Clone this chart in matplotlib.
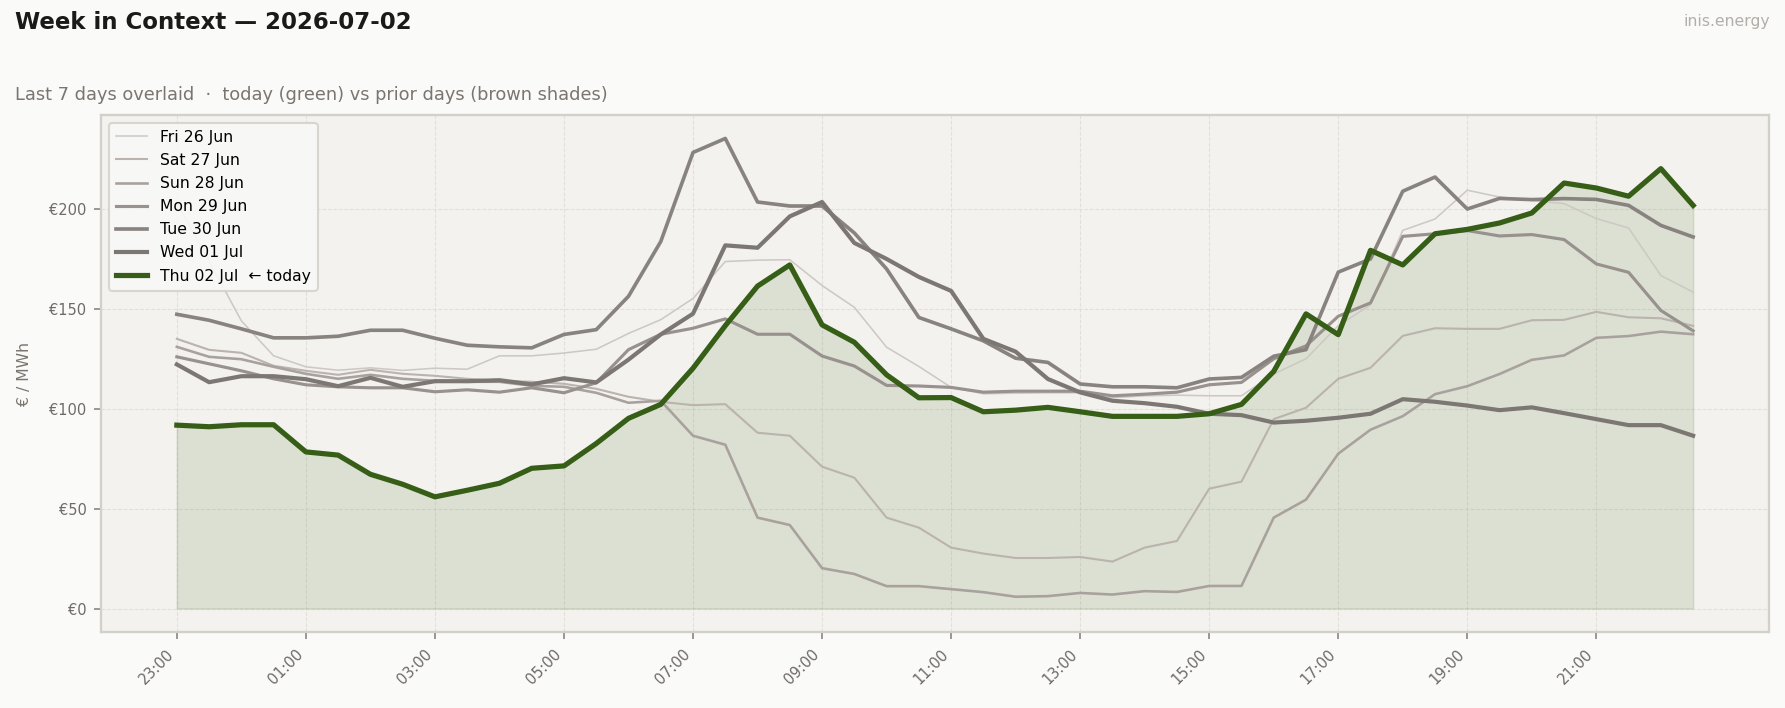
import matplotlib
matplotlib.use("Agg")
import matplotlib.pyplot as plt
import numpy as np

# ---------------- data ----------------
slot_labels = ["23:00", "01:00", "03:00", "05:00", "07:00", "09:00",
               "11:00", "13:00", "15:00", "17:00", "19:00", "21:00"]

day_names = ["Fri 26 Jun", "Sat 27 Jun", "Sun 28 Jun", "Mon 29 Jun",
             "Tue 30 Jun", "Wed 01 Jul", "Thu 02 Jul  \u2190 today"]

fri = [203, 174, 144, 126.5, 121, 119.3, 120.5, 119.2, 120.3, 119.8,
       126.5, 126.5, 127.9, 129.8, 137.7, 144.6, 155.2, 173.7, 174.4, 174.6,
       161.7, 150.8, 130.8, 121.2, 110.7, 107.5, 107.8, 108, 108, 105.5,
       106.5, 106.8, 106.5, 106.5, 117.4, 125, 141.6, 152, 189.3, 195,
       209.4, 206, 204.3, 202.7, 195.2, 190.5, 166.7, 158.4]
sat = [135, 129.5, 128, 121.5, 119, 117, 119.5, 117.5, 116.5, 115,
       114, 113.5, 112.5, 110, 106, 103.5, 101.8, 102.3, 88, 86.5,
       71, 65.5, 45.5, 40.5, 30.5, 27.5, 25.3, 25.3, 25.8, 23.5,
       30.5, 33.8, 60, 63.5, 94.8, 100.5, 115, 120.5, 136.5, 140.3,
       140, 140, 144.3, 144.5, 148.5, 145.8, 145.3, 141.5]
sun = [131, 126, 124.8, 121, 117.5, 115, 117, 115, 114, 113.5,
       113.5, 111.5, 111, 108, 103, 104, 86.5, 82, 45.5, 41.8,
       20.2, 17.3, 11.2, 11.2, 9.7, 8.2, 5.9, 6.2, 7.8, 7,
       8.7, 8.3, 11.3, 11.3, 45.5, 54.5, 77.5, 89.5, 96.3, 107.3,
       111.3, 117.4, 124.5, 126.7, 135.5, 136.4, 138.6, 137.3]
mon = [126, 122.5, 119, 115, 112, 111, 110.5, 110.5, 108.5, 109.5,
       108.3, 110.5, 108, 113, 129.6, 137.3, 140.3, 145, 137.3, 137.3,
       126.4, 121.4, 111.7, 111.4, 110.7, 108.3, 108.8, 108.8, 108.8, 106.5,
       107.3, 108.3, 112, 113.2, 125, 131.5, 146.3, 153, 186.3, 187.6,
       189.2, 186.5, 187.2, 184.7, 172.5, 168.3, 149.2, 139]
tue = [147.3, 144.3, 140, 135.5, 135.5, 136.3, 139.3, 139.3, 135.3, 131.8,
       131, 130.5, 137.2, 139.6, 156.3, 183.7, 228.3, 235.3, 203.5, 201.5,
       201.5, 188, 170, 145.7, 140, 134, 125.3, 123.2, 112.4, 111,
       111, 110.5, 114.9, 115.7, 126.3, 129.6, 168.4, 175, 208.9, 216,
       200, 205.3, 204.7, 205.2, 204.8, 201.8, 191.8, 186]
wed = [122.2, 113.3, 116.3, 116.3, 114.8, 111.3, 115.5, 111, 113.8, 113.8,
       114.3, 112.2, 115.3, 113.2, 124.6, 137.2, 147.6, 181.8, 180.6, 196.3,
       203.5, 183, 175, 166, 159, 135, 128.6, 114.9, 108.2, 104,
       102.8, 101, 97.5, 96.8, 93.1, 94, 95.5, 97.5, 104.8, 103.5,
       101.6, 99.3, 100.7, 97.8, 94.8, 91.8, 91.8, 86.5]
thu = [91.8, 91, 92, 92, 78.4, 76.8, 67.2, 62.2, 55.9, 59.2,
       62.7, 70.2, 71.4, 82.6, 95.2, 102.2, 120.3, 141.6, 161.4, 172,
       142, 133.3, 117, 105.5, 105.6, 98.5, 99.3, 100.7, 98.5, 96.2,
       96.2, 96.2, 97.5, 102.2, 118.7, 147.5, 137.1, 179.3, 172, 187.6,
       189.8, 193, 198, 213, 210.5, 206.4, 220.2, 201.8]

series = [fri, sat, sun, mon, tue, wed]
prior_colors = ["#cdc8c3", "#bab3ae", "#a9a19d", "#98918d", "#89837f", "#7c7773"]
prior_widths = [0.75, 1.0, 1.25, 1.5, 1.75, 2.0]
today_color = "#365e17"

# ---------------- figure ----------------
fig = plt.figure(figsize=(11.9, 4.72), dpi=150)
fig.patch.set_facecolor("#fafaf8")
ax = fig.add_axes([0.0566, 0.1073, 0.9344, 0.7303])
ax.set_facecolor("#f3f2ee")

x = np.arange(len(thu))

ax.fill_between(x, 0, thu, color=today_color, alpha=0.12, linewidth=0.8)
for vals, name, c, lw in zip(series, day_names[:6], prior_colors, prior_widths):
    ax.plot(x, vals, color=c, lw=lw, label=name)
ax.plot(x, thu, color=today_color, lw=2.5, label=day_names[6], zorder=5)

ax.set_xticks(np.arange(0, 48, 4))
ax.set_xticklabels(slot_labels, rotation=45, ha="right")
ax.set_yticks([0, 50, 100, 150, 200])
ax.set_yticklabels(["\u20ac0", "\u20ac50", "\u20ac100", "\u20ac150", "\u20ac200"])
ax.tick_params(axis="both", labelsize=7, colors="#8a8580", labelcolor="#6f6a66",
               length=3.5, width=0.8)
ax.grid(True, color="#e0ddd7", linestyle="--", linewidth=0.5, alpha=0.9)
ax.set_axisbelow(True)
for s in ax.spines.values():
    s.set_color("#d3cfc9")
    s.set_linewidth(1.1)

ax.set_ylabel("\u20ac / MWh", fontsize=7.5, color="#7a7570", labelpad=8)

leg = ax.legend(loc="upper left", fontsize=7.5, frameon=True, handlelength=2.0,
                borderpad=0.45, labelspacing=0.52, handletextpad=0.8,
                borderaxespad=0.5)
leg.get_frame().set_facecolor("#f8f8f6")
leg.get_frame().set_edgecolor("#d6d2cc")
leg.get_frame().set_alpha(0.9)

fig.text(0.0083, 0.968, "Week in Context \u2014 2026-07-02", fontsize=11,
         fontweight="bold", color="#1a1a1a", ha="left", va="center")
fig.text(0.0083, 0.866,
         "Last 7 days overlaid  \u00b7  today (green) vs prior days (brown shades)",
         fontsize=8.5, color="#7a7570", ha="left", va="center")
fig.text(0.9916, 0.970, "inis.energy", fontsize=7.5, color="#b3aea9",
         ha="right", va="center")

fig.savefig("out.png", dpi=150, facecolor=fig.get_facecolor())
